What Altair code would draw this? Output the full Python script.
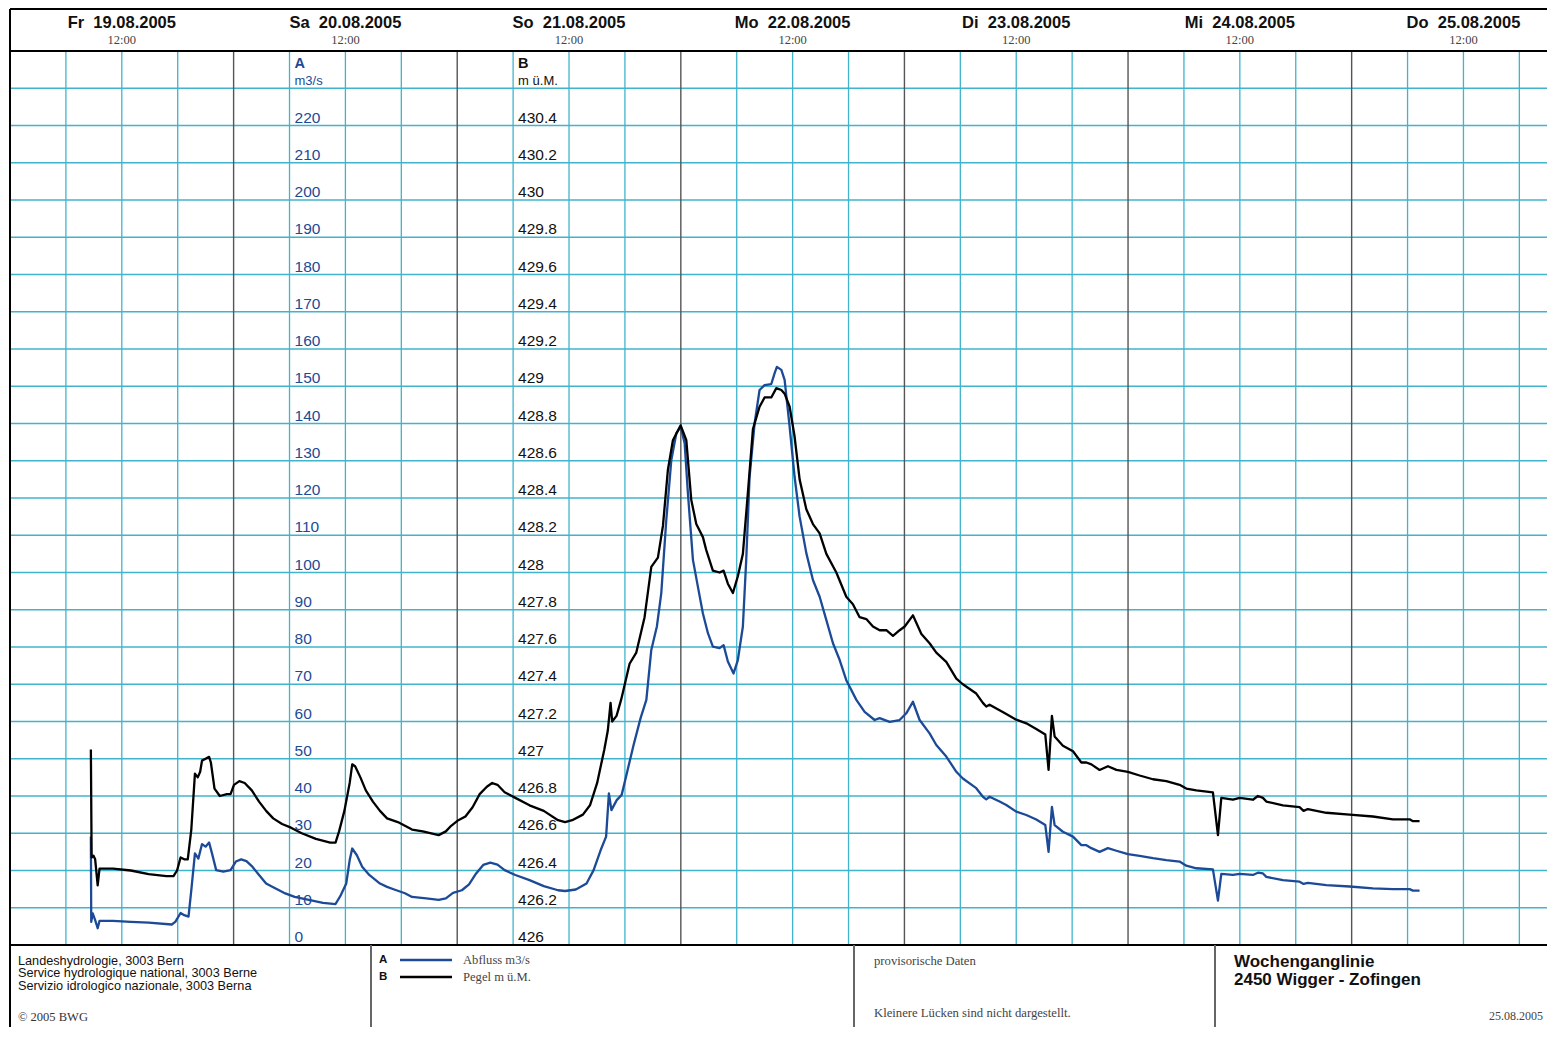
import altair as alt
import pandas as pd

# ---------------- data (hours since Fr 19.08.2005 00:00) ----------------
abfluss_h = [8.68, 8.72, 8.88, 9.14, 9.41, 9.61, 11.06, 12.97, 14.88, 17.36, 17.74, 18.31, 18.70, 19.16,
             19.46, 19.85, 20.22, 20.61, 20.99, 21.37, 21.68, 22.13, 22.90, 23.67, 24.24, 24.81, 25.38,
             25.95, 26.73, 27.49, 28.25, 29.40, 30.55, 32.07, 33.59, 34.94, 35.51, 36.09, 36.46, 36.73,
             37.23, 37.80, 38.56, 39.71, 40.47, 41.24, 42.39, 43.15, 44.68, 46.01, 46.78, 47.55, 48.50,
             49.27, 50.03, 50.79, 51.56, 52.32, 53.09, 54.24, 55.76, 57.29, 58.82, 59.58, 60.73, 61.88,
             62.64, 63.40, 63.98, 64.28, 64.55, 65.12, 65.65, 66.29, 66.93, 67.68, 68.30, 68.83, 69.43,
             69.90, 70.44, 70.98, 71.52, 71.98, 72.41, 72.76, 73.30, 73.83, 74.37, 74.91, 75.44, 76.16,
             76.59, 77.05, 77.66, 78.12, 78.66, 79.02, 79.38, 79.92, 80.45, 80.99, 81.71, 82.07, 82.31,
             82.79, 83.14, 83.68, 84.21, 84.75, 85.47, 86.18, 86.90, 87.62, 88.33, 89.05, 89.76, 90.84,
             91.73, 92.80, 93.34, 94.41, 95.48, 96.20, 96.91, 97.63, 98.70, 99.42, 100.49, 101.57,
             102.27, 103.71, 104.42, 104.78, 105.14, 106.21, 106.93, 108.00, 109.08, 110.15, 111.12,
             111.47, 111.83, 112.12, 113.01, 114.09, 114.99, 115.53, 116.06, 116.95, 117.84, 118.75,
             119.99, 121.24, 122.67, 124.11, 125.53, 126.25, 127.33, 129.11, 129.65, 130.01, 131.26,
             131.98, 133.40, 133.94, 134.48, 134.84, 136.62, 138.41, 138.84, 139.30, 141.28, 143.78,
             146.28, 148.43, 150.22, 150.58, 151.29]
abfluss_q = [29.1, 6.2, 8.5, 6.7, 4.5, 6.5, 6.5, 6.2, 6.0, 5.5, 6.2, 8.6, 8.0, 7.6,
             14.7, 24.6, 23.2, 27.1, 26.4, 27.5, 24.6, 20.1, 19.7, 20.1, 22.4, 23.0, 22.5,
             21.2, 18.8, 16.5, 15.5, 14.0, 12.9, 12.1, 11.3, 11.0, 13.4, 16.5, 22.8, 25.9,
             24.1, 21.0, 18.8, 16.5, 15.6, 14.9, 13.9, 12.9, 12.5, 12.1, 12.5, 14.0, 14.7,
             16.3, 19.2, 21.5, 22.1, 21.6, 20.1, 18.8, 17.4, 15.8, 14.7, 14.5, 14.9, 16.5,
             20.1, 25.5, 29.1, 40.7, 36.2, 38.9, 40.3, 47.0, 53.7, 60.9, 65.8, 79.2, 85.5,
             94.4, 114.1, 130.2, 137.4, 139.1, 134.7, 121.3, 103.4, 96.2, 89.0, 83.7, 80.1, 79.7,
             80.5, 76.1, 72.9, 76.5, 85.5, 103.4, 125.7, 140.1, 149.0, 150.3, 150.6, 153.5, 155.2,
             154.4, 151.7, 139.1, 125.7, 115.0, 105.2, 98.0, 93.5, 87.2, 81.0, 76.5, 71.1, 65.8,
             62.6, 60.4, 60.9, 59.9, 60.4, 62.2, 65.3, 60.4, 56.8, 53.7, 50.6, 46.5,
             44.7, 42.1, 39.8, 39.1, 39.8, 38.5, 37.6, 35.8, 34.9, 33.7, 32.2,
             25.0, 37.1, 32.2, 30.4, 29.1, 26.8, 26.8, 26.0, 25.0, 26.0, 25.3,
             24.4, 23.9, 23.3, 22.8, 22.4, 21.3, 20.6, 20.3, 11.9, 19.1, 18.8,
             19.1, 18.8, 19.4, 19.2, 18.3, 17.4, 17.0, 16.4, 16.7, 16.1, 15.7,
             15.2, 15.0, 15.0, 14.6, 14.6]

pegel_h = [8.68, 8.76, 8.95, 9.14, 9.41, 9.61, 11.06, 12.97, 14.88, 16.79, 17.55, 17.93, 18.31, 18.70,
           19.08, 19.46, 19.85, 20.15, 20.41, 20.61, 20.99, 21.37, 21.56, 21.95, 22.52, 23.28, 23.67,
           24.04, 24.62, 25.19, 25.95, 26.73, 27.49, 28.25, 29.20, 30.16, 31.31, 32.83, 34.37, 34.94,
           35.32, 35.89, 36.46, 36.73, 37.04, 37.61, 38.19, 38.95, 39.71, 40.47, 41.62, 42.39, 43.15,
           44.30, 46.01, 46.78, 47.35, 48.12, 48.88, 49.65, 50.41, 51.18, 51.75, 52.32, 53.09, 54.24,
           55.76, 57.29, 58.82, 59.58, 60.34, 61.49, 62.25, 63.02, 63.79, 64.16, 64.46, 64.63, 65.10,
           65.61, 66.50, 67.22, 68.11, 68.83, 69.54, 70.08, 70.61, 71.15, 71.98, 72.59, 73.12, 73.66,
           74.37, 74.73, 75.44, 76.16, 76.59, 77.05, 77.59, 78.12, 78.66, 79.20, 79.74, 80.45, 80.99,
           81.71, 82.25, 82.79, 83.14, 83.68, 84.21, 84.75, 85.47, 86.18, 86.90, 87.62, 88.69, 89.76,
           90.47, 91.19, 91.91, 92.62, 93.34, 94.06, 94.77, 95.49, 96.03, 96.91, 97.82, 98.70, 99.42,
           100.49, 101.57, 102.27, 103.71, 104.42, 104.78, 105.14, 106.21, 106.93, 108.00, 109.08,
           110.15, 111.12, 111.47, 111.83, 112.12, 113.01, 114.09, 114.99, 115.53, 116.06, 116.95,
           117.84, 118.75, 119.99, 121.24, 122.67, 124.11, 125.53, 126.25, 127.33, 129.11, 129.65,
           130.01, 131.26, 131.98, 133.40, 133.94, 134.48, 134.84, 136.62, 138.41, 138.84, 139.30,
           141.28, 143.78, 146.28, 148.43, 150.22, 150.58, 151.29]
pegel_m = [427.05, 426.47, 426.48, 426.46, 426.32, 426.41, 426.41, 426.40, 426.38, 426.37, 426.37, 426.40, 426.47, 426.46,
           426.46, 426.62, 426.92, 426.90, 426.93, 426.99, 427.00, 427.01, 426.98, 426.84, 426.80, 426.81, 426.81,
           426.86, 426.88, 426.87, 426.83, 426.77, 426.72, 426.68, 426.65, 426.63, 426.60, 426.57, 426.55, 426.55,
           426.61, 426.72, 426.87, 426.97, 426.96, 426.90, 426.83, 426.77, 426.72, 426.68, 426.66, 426.64, 426.62,
           426.61, 426.59, 426.61, 426.64, 426.67, 426.69, 426.74, 426.81, 426.85, 426.87, 426.86, 426.82, 426.79,
           426.75, 426.72, 426.67, 426.66, 426.67, 426.70, 426.75, 426.87, 427.05, 427.15, 427.30, 427.20, 427.23,
           427.32, 427.51, 427.57, 427.76, 428.03, 428.08, 428.25, 428.55, 428.71, 428.79, 428.71, 428.39, 428.26,
           428.19, 428.12, 428.01, 428.00, 428.01, 427.94, 427.89, 427.98, 428.10, 428.43, 428.77, 428.89, 428.94,
           428.94, 428.99, 428.98, 428.96, 428.89, 428.73, 428.50, 428.34, 428.26, 428.21, 428.10, 428.00, 427.87,
           427.83, 427.76, 427.75, 427.71, 427.69, 427.69, 427.66, 427.69, 427.71, 427.77, 427.67, 427.62, 427.57,
           427.52, 427.43, 427.40, 427.35, 427.30, 427.28, 427.29, 427.26, 427.24, 427.21, 427.19,
           427.16, 427.13, 426.94, 427.23, 427.12, 427.07, 427.04, 426.98, 426.98, 426.97, 426.94,
           426.96, 426.94, 426.93, 426.91, 426.89, 426.88, 426.86, 426.84, 426.83, 426.82, 426.59,
           426.79, 426.78, 426.79, 426.78, 426.80, 426.79, 426.77, 426.75, 426.74, 426.72, 426.73,
           426.71, 426.70, 426.69, 426.675, 426.675, 426.665, 426.665]

tage = ["Fr\u00a0\u00a019.08.2005", "Sa\u00a0\u00a020.08.2005", "So\u00a0\u00a021.08.2005",
        "Mo\u00a0\u00a022.08.2005", "Di\u00a0\u00a023.08.2005", "Mi\u00a0\u00a024.08.2005",
        "Do\u00a0\u00a025.08.2005"]
tage_mitte_h = [12, 36, 60, 84, 108, 132, 156]
tag_grenzen_h = [24, 48, 72, 96, 120, 144]
sechs_std_h = [6, 12, 18, 30, 36, 42, 54, 60, 66, 78, 84, 90, 102, 108, 114, 126, 132, 138, 150, 156, 162]

a_ticks = list(range(0, 230, 10))
b_ticks = [426.0, 426.2, 426.4, 426.6, 426.8, 427.0, 427.2, 427.4, 427.6, 427.8, 428.0, 428.2,
           428.4, 428.6, 428.8, 429.0, 429.2, 429.4, 429.6, 429.8, 430.0, 430.2, 430.4]
b_labels = ["426", "426.2", "426.4", "426.6", "426.8", "427", "427.2", "427.4", "427.6", "427.8",
            "428", "428.2", "428.4", "428.6", "428.8", "429", "429.2", "429.4", "429.6", "429.8",
            "430", "430.2", "430.4"]
grid_a = list(range(10, 240, 10))

# ---------------- layout ----------------
W, H = 1537, 894
FOOT = 82
X_MAX = W / 9.317
BLUE = "#1c4a96"
CYAN = "#3fb4cc"
SANS = "Liberation Sans"
SERIF = "Liberation Serif"

xs = alt.Scale(domain=[0, X_MAX], nice=False, zero=False)
ya = alt.Scale(domain=[0, 240], nice=False)
yb = alt.Scale(domain=[426, 430.8], nice=False, zero=False)

one = pd.DataFrame({"t": [""]})


def rule_px(x1, x2, y1, y2, color="black", width=2):
    return alt.Chart(one).mark_rule(color=color, strokeWidth=width).encode(
        x=alt.value(x1), x2=alt.value(x2), y=alt.value(y1), y2=alt.value(y2))


def text_px(txt, x, y, size=11, font=SANS, weight="normal", color="#111", align="left"):
    return alt.Chart(pd.DataFrame({"t": [txt]})).mark_text(
        align=align, baseline="middle", fontSize=size, font=font, fontWeight=weight, color=color
    ).encode(x=alt.value(x), y=alt.value(y), text="t:N")


layers = []

# grid
layers.append(alt.Chart(pd.DataFrame({"a": grid_a})).mark_rule(color=CYAN, strokeWidth=1.3).encode(
    y=alt.Y("a:Q", scale=ya, axis=None), x=alt.value(0), x2=alt.value(W)))
layers.append(alt.Chart(pd.DataFrame({"h": sechs_std_h})).mark_rule(color=CYAN, strokeWidth=1.3).encode(
    x=alt.X("h:Q", scale=xs, axis=None), y=alt.value(0), y2=alt.value(H)))
layers.append(alt.Chart(pd.DataFrame({"h": tag_grenzen_h})).mark_rule(color="#555555", strokeWidth=1.4).encode(
    x=alt.X("h:Q", scale=xs, axis=None), y=alt.value(0), y2=alt.value(H)))

# in-plot axis labels
layers.append(alt.Chart(pd.DataFrame({"h": [30] * len(a_ticks), "a": a_ticks})).mark_text(
    align="left", baseline="alphabetic", dx=5, dy=-3, fontSize=15.5, font=SANS, color=BLUE).encode(
    x=alt.X("h:Q", scale=xs, axis=None), y=alt.Y("a:Q", scale=ya, axis=None), text="a:N"))
layers.append(alt.Chart(pd.DataFrame({"h": [54] * len(b_ticks), "b": b_ticks, "l": b_labels})).mark_text(
    align="left", baseline="alphabetic", dx=5, dy=-3, fontSize=15.5, font=SANS, color="#111").encode(
    x=alt.X("h:Q", scale=xs, axis=None), y=alt.Y("b:Q", scale=yb, axis=None), text="l:N"))
for hh, big, unit, col in [(30, "A", "m3/s", BLUE), (54, "B", "m ü.M.", "#111")]:
    layers.append(alt.Chart(pd.DataFrame({"h": [hh], "t": [big]})).mark_text(
        align="left", baseline="middle", dx=5, fontSize=14.5, fontWeight="bold", font=SANS, color=col).encode(
        x=alt.X("h:Q", scale=xs, axis=None), y=alt.value(13), text="t:N"))
    layers.append(alt.Chart(pd.DataFrame({"h": [hh], "t": [unit]})).mark_text(
        align="left", baseline="middle", dx=5, fontSize=13, font=SANS, color=col).encode(
        x=alt.X("h:Q", scale=xs, axis=None), y=alt.value(30), text="t:N"))

# curves
layers.append(alt.Chart(pd.DataFrame({"h": abfluss_h, "q": abfluss_q})).mark_line(
    color=BLUE, strokeWidth=2.3, strokeJoin="round").encode(
    x=alt.X("h:Q", scale=xs, axis=None), y=alt.Y("q:Q", scale=ya, axis=None), order="h:Q"))
layers.append(alt.Chart(pd.DataFrame({"h": pegel_h, "m": pegel_m})).mark_line(
    color="black", strokeWidth=2.3, strokeJoin="round").encode(
    x=alt.X("h:Q", scale=xs, axis=None), y=alt.Y("m:Q", scale=yb, axis=None), order="h:Q"))

# header
layers.append(alt.Chart(pd.DataFrame({"h": tage_mitte_h, "t": tage})).mark_text(
    align="center", baseline="middle", fontSize=16.5, fontWeight="bold", font=SANS, color="#111").encode(
    x=alt.X("h:Q", scale=xs, axis=None), y=alt.value(-28), text="t:N"))
layers.append(alt.Chart(pd.DataFrame({"h": tage_mitte_h, "t": ["12:00"] * 7})).mark_text(
    align="center", baseline="middle", fontSize=12.5, font=SERIF, color="#444").encode(
    x=alt.X("h:Q", scale=xs, axis=None), y=alt.value(-11), text="t:N"))

# frame lines
layers.append(rule_px(0, W, -42, -42))
layers.append(rule_px(0, W, 0, 0))
layers.append(rule_px(0, W, H, H))
layers.append(rule_px(0, 0, -42, H + FOOT))
for xd in [361, 844, 1205]:
    layers.append(rule_px(xd, xd, H, H + FOOT, color="#666666", width=2))

# footer texts
layers.append(text_px("Landeshydrologie, 3003 Bern", 8, H + 16, size=12.7))
layers.append(text_px("Service hydrologique national, 3003 Berne", 8, H + 28, size=12.7))
layers.append(text_px("Servizio idrologico nazionale, 3003 Berna", 8, H + 41, size=12.7))
layers.append(text_px("© 2005 BWG", 8, H + 72, size=12.5, font=SERIF, color="#333"))
layers.append(text_px("A", 369, H + 15, size=11.5, weight="bold"))
layers.append(text_px("B", 369, H + 32, size=11.5, weight="bold"))
layers.append(rule_px(390, 442, H + 15, H + 15, color=BLUE, width=2.6))
layers.append(rule_px(390, 442, H + 32, H + 32, color="black", width=2.6))
layers.append(text_px("Abfluss m3/s", 453, H + 15, size=12.6, font=SERIF, color="#444"))
layers.append(text_px("Pegel m ü.M.", 453, H + 32, size=12.6, font=SERIF, color="#444"))
layers.append(text_px("provisorische Daten", 864, H + 16, size=12.7, font=SERIF, color="#444"))
layers.append(text_px("Kleinere Lücken sind nicht dargestellt.", 864, H + 68, size=12.7, font=SERIF, color="#444"))
layers.append(text_px("Wochenganglinie", 1224, H + 17, size=17, weight="bold"))
layers.append(text_px("2450 Wigger - Zofingen", 1224, H + 35, size=17, weight="bold"))
layers.append(text_px("25.08.2005", 1533, H + 71, size=12, font=SERIF, color="#444", align="right"))

chart = alt.layer(*layers).resolve_scale(y="independent").properties(
    width=W, height=H,
    padding={"left": 2, "top": 43, "right": 0, "bottom": FOOT},
    autosize=alt.AutoSizeParams(type="none"),
    background="white",
).configure_view(stroke=None)

chart.save("out.html", embed_options={"renderer": "svg", "actions": False})
